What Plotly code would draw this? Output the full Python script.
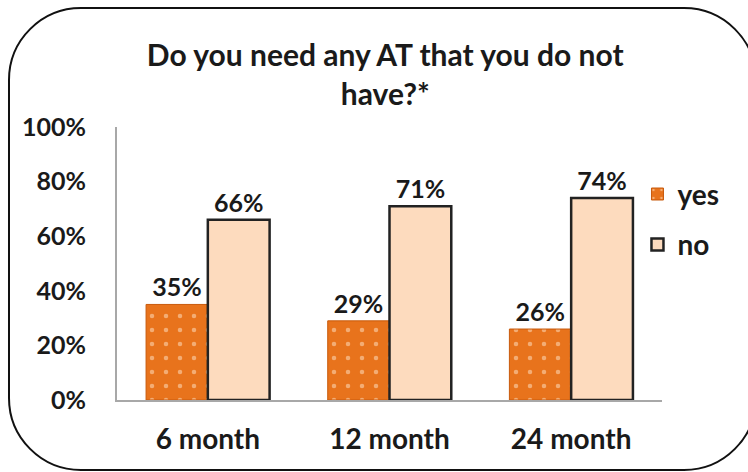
import plotly.graph_objects as go

# Survey answers at each follow-up point
categories = ["6 month", "12 month", "24 month"]
yes_values = [0.35, 0.29, 0.26]
no_values = [0.66, 0.71, 0.74]
y_ticks = [0, 0.2, 0.4, 0.6, 0.8, 1.0]
y_tick_labels = ["0%", "20%", "40%", "60%", "80%", "100%"]

W, H = 748, 472
ML, MR, MT, MB = 117, 86, 127, 72
PW, PH = W - ML - MR, H - MT - MB

FONT = "Lato"
INK = "#1a1a1a"


def px_x(x):
    return (x - ML) / PW


def px_y(y):
    return (H - MB - y) / PH


def rounded_frame(x0, y0, x1, y1, r):
    k = 0.5523 * r
    pts = [
        ("M", [(x0 + r, y0)]),
        ("L", [(x1 - r, y0)]),
        ("C", [(x1 - r + k, y0), (x1, y0 + r - k), (x1, y0 + r)]),
        ("L", [(x1, y1 - r)]),
        ("C", [(x1, y1 - r + k), (x1 - r + k, y1), (x1 - r, y1)]),
        ("L", [(x0 + r, y1)]),
        ("C", [(x0 + r - k, y1), (x0, y1 - r + k), (x0, y1 - r)]),
        ("L", [(x0, y0 + r)]),
        ("C", [(x0, y0 + r - k), (x0 + r - k, y0), (x0 + r, y0)]),
    ]
    out = []
    for cmd, coords in pts:
        out.append(cmd + " ".join(f"{px_x(a):.5f},{px_y(b):.5f}" for a, b in coords))
    return " ".join(out) + " Z"


def bold(s):
    return f"<b>{s}</b>"


fig = go.Figure()
fig.add_trace(go.Bar(
    name=bold("yes"), x=categories, y=yes_values,
    text=[f"{v:.0%}" for v in yes_values], textposition="outside",
    texttemplate="<b>%{text}</b>",
    textfont=dict(family=FONT, size=25, color=INK),
    marker=dict(color="#E8731C", line=dict(color="#C85A0C", width=1),
                pattern=dict(shape=".", fgcolor="#FFE6CC", size=14, solidity=0.08)),
    legendgroup="yes", cliponaxis=False,
))
fig.add_trace(go.Bar(
    name=bold("no"), x=categories, y=no_values,
    text=[f"{v:.0%}" for v in no_values], textposition="outside",
    texttemplate="<b>%{text}</b>",
    textfont=dict(family=FONT, size=25, color=INK),
    marker=dict(color="#FDDBBE", line=dict(color="#222222", width=2.5)),
    legendgroup="no", cliponaxis=False,
))

fig.add_shape(type="path", xref="paper", yref="paper",
              path=rounded_frame(9, 8, 756, 470, 72),
              line=dict(color="#111111", width=2), fillcolor="rgba(0,0,0,0)")

fig.update_layout(
    width=W, height=H,
    margin=dict(l=ML, r=MR, t=MT, b=MB),
    paper_bgcolor="white", plot_bgcolor="white",
    barmode="group", bargap=0.32, bargroupgap=0,
    title=dict(text="<b>Do you need any AT that you do not<br>have?*</b>",
               x=0.515, xanchor="center", y=0.86, yanchor="top",
               font=dict(family=FONT, size=30, color=INK)),
    showlegend=True,
    legend=dict(x=0.955, xanchor="left", y=0.845, yanchor="top",
                font=dict(family=FONT, size=28, color=INK),
                tracegroupgap=11, itemwidth=30, bgcolor="rgba(0,0,0,0)"),
    xaxis=dict(showline=True, linecolor="#A8A8A8", linewidth=2, ticks="",
               tickfont=dict(family=FONT, size=28, color=INK),
               tickvals=categories, ticktext=[bold(c) for c in categories],
               ticklabelstandoff=13, showgrid=False),
    yaxis=dict(range=[0, 1.0], tickvals=y_ticks,
               ticktext=[bold(t) for t in y_tick_labels],
               showline=True, linecolor="#A8A8A8", linewidth=2, ticks="",
               tickfont=dict(family=FONT, size=25, color=INK),
               showgrid=False, zeroline=False, ticklabelstandoff=24),
)

fig.write_html("out.html")
